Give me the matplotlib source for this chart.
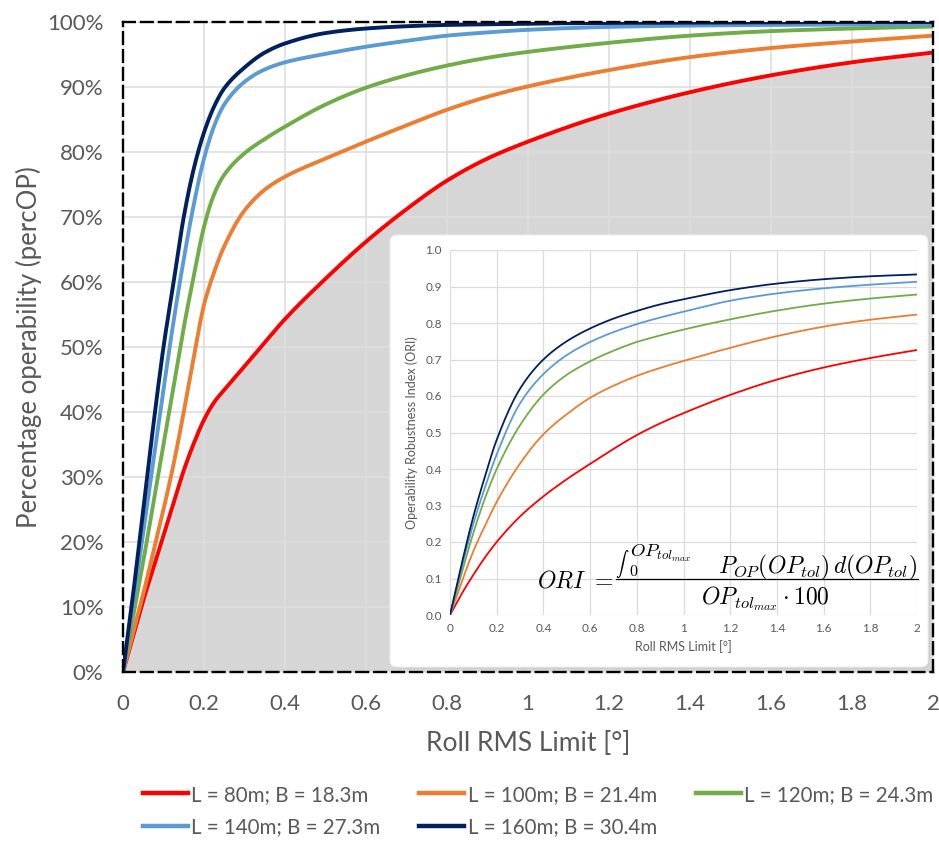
import matplotlib
matplotlib.use("Agg")
import matplotlib.pyplot as plt
from matplotlib.patches import FancyBboxPatch
from matplotlib.ticker import FuncFormatter
from matplotlib.lines import Line2D
import numpy as np

plt.rcParams['font.family'] = ['Lato', 'DejaVu Sans']
plt.rcParams['mathtext.fontset'] = 'cm'

# ---------------- data ----------------
labels = ["L = 80m; B = 18.3m", "L = 100m; B = 21.4m", "L = 120m; B = 24.3m",
          "L = 140m; B = 27.3m", "L = 160m; B = 30.4m"]
colors = ["#ff0000", "#ed7d31", "#70ad47", "#5b9bd5", "#002060"]

x_main = [0, 0.025, 0.05, 0.075, 0.1, 0.125, 0.15, 0.175, 0.2, 0.225, 0.25, 0.3,
          0.35, 0.4, 0.5, 0.6, 0.7, 0.8, 0.9, 1.0, 1.2, 1.4, 1.6, 1.8, 2.0]
op_80 = [0, 5.5, 11, 16, 21, 26, 31, 35.2, 38.8, 41.5, 43.4, 47,
         50.7, 54.3, 60.5, 66.2, 71.2, 75.6, 79, 81.6, 85.9, 89.2, 91.8, 93.8, 95.3]
op_100 = [0, 6, 12, 18.5, 25, 32, 40, 48.5, 56.5, 61.5, 65.5, 71,
          74.2, 76.2, 79.0, 81.6, 84.1, 86.5, 88.5, 90.1, 92.6, 94.6, 96.0, 97.0, 97.9]
op_120 = [0, 8.5, 17, 26, 35, 44, 53, 61, 68.5, 73.5, 76.5, 79.8,
          82, 83.9, 87.3, 89.9, 91.8, 93.3, 94.5, 95.4, 96.8, 97.9, 98.6, 99.0, 99.3]
op_140 = [0, 10.5, 21.5, 32.5, 43.5, 54, 63.5, 72, 79, 84, 87.3, 90.8,
          92.7, 93.8, 95.1, 96.2, 97.1, 97.9, 98.4, 98.8, 99.25, 99.45, 99.55, 99.6, 99.65]
op_160 = [0, 12, 25, 38, 50, 60, 70, 77.5, 83, 87, 89.8, 93,
          95.3, 96.7, 98.3, 99.0, 99.35, 99.55, 99.65, 99.75, 99.85, 99.9, 99.95, 100, 100]

x_ori = [0, 0.05, 0.1, 0.15, 0.2, 0.3, 0.4, 0.5, 0.6, 0.7, 0.8, 0.9, 1.0,
         1.2, 1.4, 1.6, 1.8, 2.0]
ori_80 = [0, 0.058, 0.11, 0.158, 0.20, 0.27, 0.325, 0.372, 0.414, 0.455, 0.493, 0.525,
          0.553, 0.603, 0.645, 0.678, 0.704, 0.726]
ori_100 = [0, 0.09, 0.175, 0.245, 0.31, 0.415, 0.495, 0.55, 0.595, 0.628, 0.655, 0.677,
           0.696, 0.732, 0.764, 0.79, 0.809, 0.823]
ori_120 = [0, 0.115, 0.225, 0.32, 0.40, 0.52, 0.604, 0.658, 0.695, 0.724, 0.748, 0.766,
           0.782, 0.81, 0.834, 0.853, 0.867, 0.878]
ori_140 = [0, 0.13, 0.25, 0.35, 0.44, 0.58, 0.66, 0.712, 0.748, 0.775, 0.797, 0.815,
           0.831, 0.861, 0.881, 0.895, 0.905, 0.913]
ori_160 = [0, 0.14, 0.27, 0.38, 0.48, 0.62, 0.70, 0.75, 0.785, 0.812, 0.833, 0.851,
           0.865, 0.89, 0.908, 0.92, 0.928, 0.933]

main_series = [op_80, op_100, op_120, op_140, op_160]
ori_series = [ori_80, ori_100, ori_120, ori_140, ori_160]

main_xticks = [0, 0.2, 0.4, 0.6, 0.8, 1.0, 1.2, 1.4, 1.6, 1.8, 2.0]
main_xticklabels = ["0", "0.2", "0.4", "0.6", "0.8", "1", "1.2", "1.4", "1.6", "1.8", "2"]
main_yticks = [0, 10, 20, 30, 40, 50, 60, 70, 80, 90, 100]
ori_yticks = [0.0, 0.1, 0.2, 0.3, 0.4, 0.5, 0.6, 0.7, 0.8, 0.9, 1.0]


def smooth(x, y, n=400):
    """Monotone cubic (PCHIP) rendering of a read-off curve, like Excel's smoothed line."""
    x = np.asarray(x, float)
    y = np.asarray(y, float)
    h = np.diff(x)
    d = np.diff(y) / h
    m = np.zeros_like(y)
    for k in range(1, len(x) - 1):
        if d[k - 1] * d[k] > 0:
            w1 = 2 * h[k] + h[k - 1]
            w2 = h[k] + 2 * h[k - 1]
            m[k] = (w1 + w2) / (w1 / d[k - 1] + w2 / d[k])
    m[0] = d[0]
    m[-1] = d[-1]
    xs = np.linspace(x[0], x[-1], n)
    idx = np.clip(np.searchsorted(x, xs) - 1, 0, len(x) - 2)
    t = (xs - x[idx]) / h[idx]
    h00 = 2 * t**3 - 3 * t**2 + 1
    h10 = t**3 - 2 * t**2 + t
    h01 = -2 * t**3 + 3 * t**2
    h11 = t**3 - t**2
    ys = h00 * y[idx] + h10 * h[idx] * m[idx] + h01 * y[idx + 1] + h11 * h[idx] * m[idx + 1]
    return xs, ys


W, H = 939, 841
fig = plt.figure(figsize=(W / 100, H / 100), dpi=100)


def fx(px):
    return px / W


def fy(py):
    return 1 - py / H


tick_color = "#595959"

# ---------------- main axes ----------------
ax = fig.add_axes([fx(123), fy(672), fx(933) - fx(123), fy(22) - fy(672)])
ax.set_xlim(0, 2)
ax.set_ylim(0, 100)

xs_r, ys_r = smooth(x_main, op_80, 800)
ax.fill_between(xs_r, ys_r, 0, color="#d6d6d6", lw=0, zorder=1)
ax.set_axisbelow(False)
ax.grid(True, color="#dedede", lw=1.2, zorder=1.5)
for s, c in zip(main_series, colors):
    xs, ys = smooth(x_main, s, 800)
    ax.plot(xs, ys, color=c, lw=2.8, zorder=3, solid_capstyle="butt")

ax.set_xticks(main_xticks)
ax.set_xticklabels(main_xticklabels)
ax.set_yticks(main_yticks)
ax.yaxis.set_major_formatter(FuncFormatter(lambda v, p: f"{int(round(v))}%"))
ax.tick_params(length=0, labelsize=16, colors=tick_color)
ax.tick_params(axis="y", pad=14)
ax.tick_params(axis="x", pad=16)
for sp in ax.spines.values():
    sp.set_linestyle((0, (5, 2.6)))
    sp.set_linewidth(1.7)
    sp.set_color("black")
    sp.set_zorder(5)
ax.set_xlabel("Roll RMS Limit [°]", fontsize=19, color=tick_color, labelpad=12)
ax.set_ylabel("Percentage operability (percOP)", fontsize=18.5, color=tick_color, labelpad=4)

# ---------------- inset background box ----------------
shadow = FancyBboxPatch((fx(392), fy(669)), fx(930) - fx(392), fy(236) - fy(669),
                        boxstyle="round,pad=0,rounding_size=0.008",
                        transform=fig.transFigure, facecolor="#bdbdbd", alpha=0.35,
                        edgecolor="none", zorder=4)
box = FancyBboxPatch((fx(390), fy(667)), fx(928) - fx(390), fy(235) - fy(667),
                     boxstyle="round,pad=0,rounding_size=0.008",
                     transform=fig.transFigure, facecolor="white",
                     edgecolor="#eeeeee", lw=0.8, zorder=4.1)
fig.patches.extend([shadow, box])

# ---------------- inset axes ----------------
ax2 = fig.add_axes([fx(450), fy(615), fx(917) - fx(450), fy(250) - fy(615)])
ax2.set_zorder(6)
ax2.set_xlim(0, 2)
ax2.set_ylim(0, 1)
ax2.grid(True, color="#dcdcdc", lw=0.9)
ax2.set_axisbelow(True)
for s, c in zip(ori_series, colors):
    xs, ys = smooth(x_ori, s, 500)
    ax2.plot(xs, ys, color=c, lw=1.3)
ax2.set_xticks(main_xticks)
ax2.set_xticklabels(main_xticklabels)
ax2.set_yticks(ori_yticks)
ax2.set_yticklabels([f"{v:.1f}" for v in ori_yticks])
ax2.tick_params(length=0, labelsize=8.5, colors=tick_color, pad=6)
for sp in ax2.spines.values():
    sp.set_visible(False)
ax2.set_xlabel("Roll RMS Limit [°]", fontsize=9, color=tick_color, labelpad=4)
ax2.set_ylabel("Operability Robustness Index (ORI)", fontsize=9, color=tick_color, labelpad=5)

# formula (built from pieces so the fraction looks like the original)
ft = fig.transFigure
ax2.text(fx(537), fy(581), r"$ORI\ =$", transform=ft, ha="left", va="center",
         fontsize=17, color="black")
ax2.text(fx(615), fy(564), r"$\int$", transform=ft, ha="left", va="center",
         fontsize=9.5, color="black")
ax2.text(fx(629), fy(572), r"$0$", transform=ft, ha="left", va="center",
         fontsize=11.5, color="black")
ax2.text(fx(630), fy(553), r"$OP_{tol_{max}}$", transform=ft, ha="left", va="center",
         fontsize=13.5, color="black")
ax2.text(fx(917), fy(573), r"$P_{OP}(OP_{tol})\,d(OP_{tol})$", transform=ft,
         ha="right", va="baseline", fontsize=17, color="black")
ax2.plot([fx(616), fx(918)], [fy(579), fy(579)], transform=ft, color="black",
         lw=0.9, clip_on=False)
ax2.text(fx(765), fy(584), r"$OP_{tol_{max}}\cdot 100$", transform=ft,
         ha="center", va="top", fontsize=17, color="black")

# ---------------- legend ----------------
handles = [Line2D([0], [0], color=c, lw=3.2) for c in colors]
order = [0, 3, 1, 4, 2]
leg = fig.legend([handles[i] for i in order], [labels[i] for i in order],
                 loc="center", bbox_to_anchor=(fx(538), fy(811)), ncol=3, frameon=False,
                 fontsize=14.8, handlelength=2.2, handletextpad=0.15, columnspacing=1.9,
                 labelspacing=0.62, labelcolor=tick_color)

fig.savefig("out.png", dpi=100)
